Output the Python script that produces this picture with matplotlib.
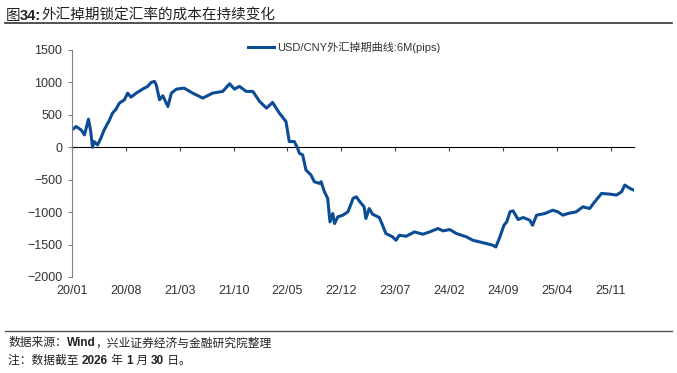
import matplotlib
matplotlib.use("Agg")
import matplotlib.pyplot as plt
import matplotlib.ticker as mticker
import pandas as pd
from matplotlib.lines import Line2D

plt.rcParams['font.family'] = ['Liberation Sans', 'Noto Sans CJK SC', 'DejaVu Sans']

# USD/CNY 6M swap points (pips)
dates = [
    "2020-01-01", "2020-01-17", "2020-02-06", "2020-02-19", "2020-03-06", "2020-03-15",
    "2020-03-22", "2020-03-28", "2020-04-11", "2020-04-24", "2020-05-07", "2020-05-27",
    "2020-06-09", "2020-06-23", "2020-07-06", "2020-07-26", "2020-08-08", "2020-08-21",
    "2020-09-11", "2020-10-06", "2020-10-26", "2020-11-09", "2020-11-22", "2020-11-29",
    "2020-12-12", "2020-12-25", "2021-01-14", "2021-01-28", "2021-02-17", "2021-03-19",
    "2021-04-22", "2021-06-01", "2021-07-10", "2021-08-19", "2021-09-15", "2021-10-04",
    "2021-10-24", "2021-11-20", "2021-12-16", "2022-01-12", "2022-02-08", "2022-03-04",
    "2022-03-31", "2022-04-26", "2022-05-09", "2022-05-29", "2022-06-11",
    "2022-06-18", "2022-07-01", "2022-07-14", "2022-08-03", "2022-08-16", "2022-09-05",
    "2022-09-12", "2022-09-25", "2022-10-08", "2022-10-17", "2022-10-28", "2022-11-04",
    "2022-11-17", "2022-12-07", "2022-12-27", "2023-01-09", "2023-01-16", "2023-01-29",
    "2023-02-12", "2023-03-01", "2023-03-08", "2023-03-21", "2023-04-03", "2023-04-30",
    "2023-05-13", "2023-05-26", "2023-06-22", "2023-07-05", "2023-07-18", "2023-08-14",
    "2023-09-16", "2023-10-19", "2023-11-15", "2023-12-18", "2024-01-07", "2024-02-03",
    "2024-02-29", "2024-04-09", "2024-05-04", "2024-05-31", "2024-06-27", "2024-07-22",
    "2024-08-03", "2024-08-19", "2024-09-04", "2024-09-15", "2024-09-28", "2024-10-10",
    "2024-10-30", "2024-11-19", "2024-12-15", "2024-12-26", "2025-01-11", "2025-02-13",
    "2025-03-16", "2025-04-05", "2025-04-25", "2025-05-15", "2025-06-17", "2025-07-13",
    "2025-08-09", "2025-08-29", "2025-09-25", "2025-10-27", "2025-11-23", "2025-12-13",
    "2025-12-26", "2026-01-15", "2026-01-30",
]
pips = [
    268, 320, 268, 190, 433, 242,
    0, 88, 36, 140, 268, 412,
    526, 588, 680, 732, 835, 773,
    835, 897, 938, 1000, 1015, 964,
    732, 794, 629, 835, 897, 912,
    835, 758, 835, 861, 980, 897,
    938, 861, 861, 706, 603, 691,
    526, 397, 88, 88, -15,
    -93, -119, -351, -428, -531, -557,
    -531, -686, -789, -1150, -1021, -1176,
    -1073, -1047, -995, -866, -789, -763,
    -840, -918, -1098, -944, -1031, -1083,
    -1202, -1330, -1382, -1434, -1356, -1372,
    -1305, -1341, -1305, -1253, -1289, -1269,
    -1330, -1382, -1434, -1459, -1485, -1511,
    -1537, -1382, -1202, -1150, -995, -980,
    -1114, -1083, -1124, -1202, -1047, -1021,
    -970, -995, -1047, -1021, -995, -918,
    -944, -840, -712, -722, -737, -686,
    -583, -634, -660,
]
xtick_labels = ["20/01", "20/08", "21/03", "21/10", "22/05", "22/12",
                "23/07", "24/02", "24/09", "25/04", "25/11"]
series_name = "USD/CNY外汇掉期曲线:6M(pips)"

x = pd.to_datetime(dates)
ticks = pd.to_datetime(["20" + t.replace("/", "-") + "-01" for t in xtick_labels])

fig = plt.figure(figsize=(6.77, 3.73), dpi=100)
ax = fig.add_axes([0.1064, 0.2574, 0.83, 0.6086])

line_color = "#0B4C95"
ax.plot(x, pips, color=line_color, lw=2.2, solid_joinstyle="round")

ymin, ymax = -2000, 1500
ax.set_ylim(ymin, ymax)
ax.set_yticks(range(-2000, 1501, 500))
ax.set_xlim(pd.Timestamp("2020-01-01"), pd.Timestamp("2026-01-31"))

for s in ["top", "right", "bottom"]:
    ax.spines[s].set_visible(False)
ax.spines["left"].set_color("#808080")
ax.tick_params(axis="y", direction="out", length=3, color="#808080",
               labelsize=9, labelcolor="#333333", pad=4)

ax.set_xticks(ticks)
ax.set_xticklabels(xtick_labels)
ax.tick_params(axis="x", length=0, labelsize=9, labelcolor="#333333", pad=6)

# zero line carrying the date tick marks
sec = ax.secondary_xaxis((0 - ymin) / (ymax - ymin))
sec.set_xticks(ticks)
sec.xaxis.set_major_formatter(mticker.NullFormatter())
sec.tick_params(axis="x", direction="in", length=3, color="#404040",
                labelbottom=False, labeltop=False)
sec.spines["bottom"].set_color("#404040")
sec.spines["bottom"].set_linewidth(1.0)

handle = Line2D([], [], color=line_color, lw=2.2)
fig.legend([handle], [series_name], loc="center left", bbox_to_anchor=(0.352, 0.873),
           frameon=False, fontsize=8, handlelength=2.3, handletextpad=0.3,
           labelcolor="#333333")


# text lines made of pieces, some bold
def rich_line(x0, y, parts, size):
    prev = None
    for txt, bold in parts:
        w = "bold" if bold else "normal"
        if prev is None:
            prev = fig.text(x0, y, txt, fontsize=size, color="#222222",
                            va="baseline", ha="left", fontweight=w)
        else:
            prev = fig.add_artist(plt.Annotation(
                txt, xy=(1, 0), xycoords=prev, fontsize=size, color="#222222",
                va="bottom", ha="left", fontweight=w))


rich_line(0.008, 0.947, [("图", False), ("34:", True),
                         ("外汇掉期锁定汇率的成本在持续变化", False)], 10.5)
fig.add_artist(Line2D([0.008, 0.993], [0.938, 0.938], color="#333333", lw=1.2,
                      transform=fig.transFigure))
fig.add_artist(Line2D([0.008, 0.993], [0.112, 0.112], color="#555555", lw=1.0,
                      transform=fig.transFigure))

rich_line(0.012, 0.072, [("数据来源：", False), ("Wind", True),
                         ("，兴业证券经济与金融研究院整理", False)], 8.5)
rich_line(0.012, 0.024, [("注：数据截至 ", False), ("2026", True), (" 年 ", False),
                         ("1", True), (" 月 ", False), ("30", True), (" 日。", False)], 8.5)

fig.savefig("out.png", dpi=100)
